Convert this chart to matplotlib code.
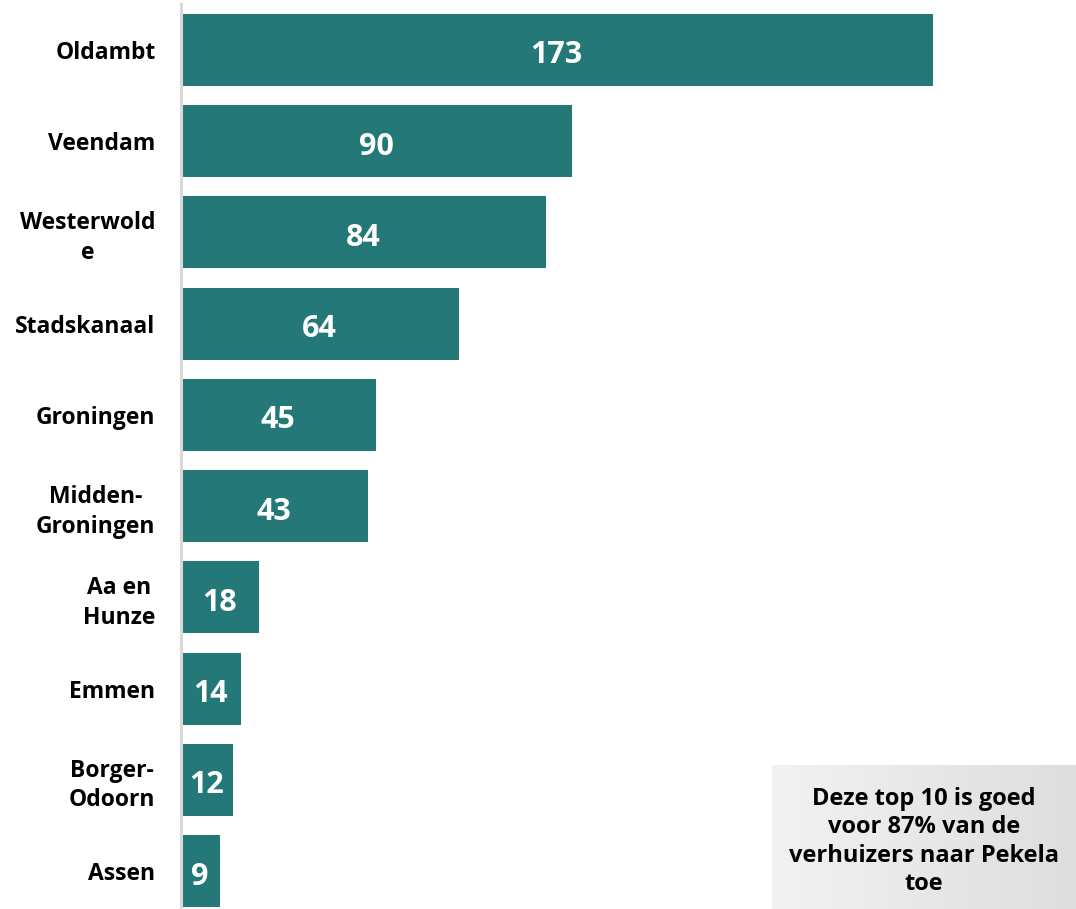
import matplotlib
matplotlib.use("Agg")
import matplotlib.pyplot as plt
import numpy as np
from matplotlib.colors import LinearSegmentedColormap

categories = ["Oldambt", "Veendam", "Westerwold\ne", "Stadskanaal", "Groningen",
              "Midden-\nGroningen", "Aa en\nHunze", "Emmen", "Borger-\nOdoorn", "Assen"]
values = [173, 90, 84, 64, 45, 43, 18, 14, 12, 9]
note = "Deze top 10 is goed\nvoor 87% van de\nverhuizers naar Pekela\ntoe"

plt.rcParams['font.family'] = ['Open Sans', 'DejaVu Sans']

W, H = 1076, 909
fig = plt.figure(figsize=(W / 100, H / 100), dpi=100)
left = 180.5 / W
ax = fig.add_axes([left, 0, 1 - left, 1 - 4 / H])

bar_color = "#247877"
y = np.arange(len(categories))
ax.barh(y, values, height=0.79, color=bar_color)
for yi, v in zip(y, values):
    ax.text(v / 2, yi + 0.06, str(v), ha="center", va="center", color="white",
            fontsize=22, fontweight="bold")

ax.set_xlim(0, 173 * (W - 180.5) / (933 - 180.5))
ax.set_ylim(9.416, -0.504)
ax.set_yticks(y)
ax.set_yticklabels(categories, fontsize=16.5, fontweight="bold", multialignment="center",
                   linespacing=1.3)
ax.tick_params(axis="y", length=0, pad=18)
ax.set_xticks([])
for s in ["top", "right", "bottom"]:
    ax.spines[s].set_visible(False)
ax.spines["left"].set_color("#d9d9d9")
ax.spines["left"].set_linewidth(2.2)

# annotation box with gradient
bx0, by0, bx1, by1 = 772, 765, 1076, 909
bax = fig.add_axes([bx0 / W, (H - by1) / H, (bx1 - bx0) / W, (by1 - by0) / H])
grad = np.linspace(0, 1, 256).reshape(1, -1)
cmap = LinearSegmentedColormap.from_list("g", ["#f2f2f2", "#dedede"])
bax.imshow(grad, aspect="auto", cmap=cmap, extent=[0, 1, 0, 1])
bax.set_xlim(0, 1)
bax.set_ylim(0, 1)
bax.axis("off")
bax.text(0.5, 0.47, note, ha="center", va="center", fontsize=17, fontweight="bold",
         color="black", linespacing=1.25)

fig.savefig("out.png", dpi=100)
